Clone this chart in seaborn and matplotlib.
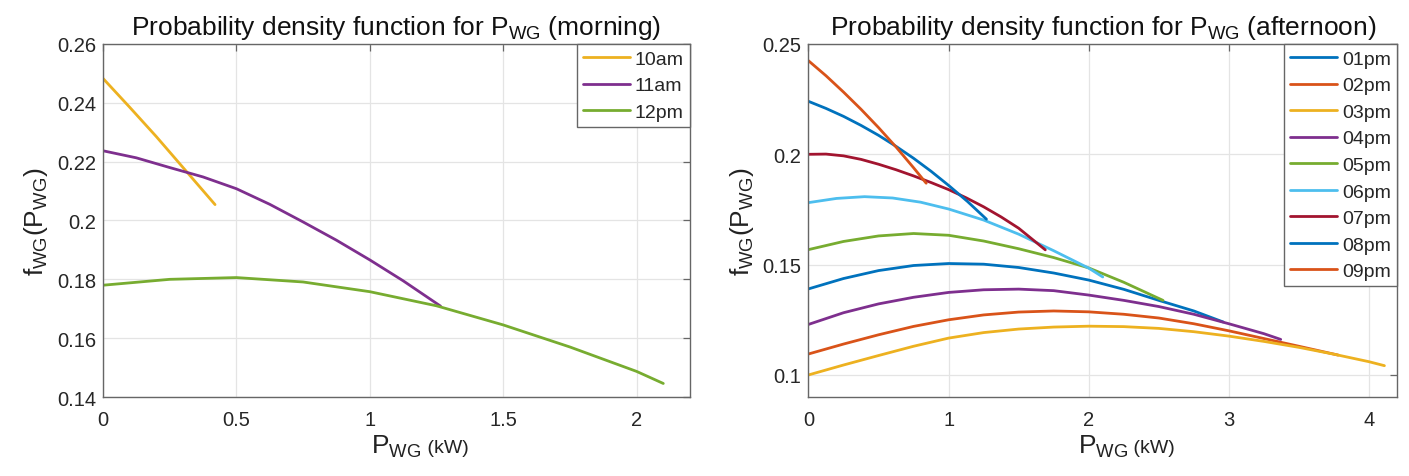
#!/usr/bin/env python

# Probability density of wind generator power, morning vs afternoon hours

import pandas as pd
import seaborn as sns
from matplotlib import pyplot as plt
from matplotlib.ticker import FuncFormatter


# ---- morning curves ----
morning_hours = ["10am", "11am", "12pm"]

x_10am = [0.0, 0.1, 0.2, 0.3, 0.42]
y_10am = [0.2483, 0.2385, 0.2285, 0.2180, 0.2054]

x_11am = [0.0, 0.125, 0.25, 0.375, 0.5, 0.625, 0.75, 0.875, 1.0, 1.125, 1.265]
y_11am = [0.2237, 0.2213, 0.2180, 0.2148, 0.2108, 0.2055, 0.1995, 0.1933, 0.1866, 0.1795, 0.1709]

x_12pm = [0.0, 0.25, 0.5, 0.75, 1.0, 1.25, 1.5, 1.75, 2.0, 2.1]
y_12pm = [0.1780, 0.1800, 0.1806, 0.1791, 0.1758, 0.1710, 0.1645, 0.1570, 0.1487, 0.1446]

# ---- afternoon curves ----
afternoon_hours = ["01pm", "02pm", "03pm", "04pm", "05pm", "06pm", "07pm", "08pm", "09pm"]

x_01pm = [0.0, 0.25, 0.5, 0.75, 1.0, 1.25, 1.5, 1.75, 2.0, 2.25, 2.5, 2.75, 2.96]
y_01pm = [0.1390, 0.1437, 0.1473, 0.1496, 0.1505, 0.1502, 0.1487, 0.1462, 0.1430, 0.1388, 0.1338, 0.1290, 0.1240]

x_02pm = [0.0, 0.25, 0.5, 0.75, 1.0, 1.25, 1.5, 1.75, 2.0, 2.25, 2.5, 2.75, 3.0, 3.25, 3.5, 3.78]
y_02pm = [0.1095, 0.1140, 0.1182, 0.1220, 0.1250, 0.1272, 0.1285, 0.1290, 0.1286, 0.1275, 0.1258, 0.1232, 0.1200, 0.1165, 0.1130, 0.1090]

x_03pm = [0.0, 0.25, 0.5, 0.75, 1.0, 1.25, 1.5, 1.75, 2.0, 2.25, 2.5, 2.75, 3.0, 3.25, 3.5, 3.75, 4.0, 4.11]
y_03pm = [0.1000, 0.1045, 0.1088, 0.1130, 0.1167, 0.1192, 0.1208, 0.1217, 0.1221, 0.1219, 0.1211, 0.1196, 0.1176, 0.1152, 0.1125, 0.1094, 0.1060, 0.1042]

x_04pm = [0.0, 0.25, 0.5, 0.75, 1.0, 1.25, 1.5, 1.75, 2.0, 2.25, 2.5, 2.75, 3.0, 3.25, 3.37]
y_04pm = [0.1229, 0.1282, 0.1322, 0.1352, 0.1374, 0.1386, 0.1389, 0.1382, 0.1362, 0.1338, 0.1310, 0.1275, 0.1232, 0.1187, 0.1161]

x_05pm = [0.0, 0.25, 0.5, 0.75, 1.0, 1.25, 1.5, 1.75, 2.0, 2.25, 2.53]
y_05pm = [0.1568, 0.1605, 0.1630, 0.1641, 0.1633, 0.1607, 0.1572, 0.1532, 0.1485, 0.1420, 0.1338]

x_06pm = [0.0, 0.2, 0.4, 0.6, 0.8, 1.0, 1.25, 1.5, 1.75, 2.0, 2.1]
y_06pm = [0.1781, 0.1800, 0.1808, 0.1802, 0.1783, 0.1752, 0.1702, 0.1638, 0.1563, 0.1484, 0.1444]

x_07pm = [0.0, 0.125, 0.25, 0.375, 0.5, 0.625, 0.75, 0.875, 1.0, 1.125, 1.25, 1.375, 1.5, 1.69]
y_07pm = [0.2000, 0.2001, 0.1993, 0.1977, 0.1955, 0.1930, 0.1902, 0.1872, 0.1840, 0.1803, 0.1762, 0.1716, 0.1665, 0.1567]

x_08pm = [0.0, 0.125, 0.25, 0.375, 0.5, 0.625, 0.75, 0.875, 1.0, 1.135, 1.27]
y_08pm = [0.2240, 0.2208, 0.2172, 0.2131, 0.2086, 0.2036, 0.1982, 0.1923, 0.1859, 0.1786, 0.1706]

x_09pm = [0.0, 0.125, 0.25, 0.375, 0.5, 0.625, 0.75, 0.84]
y_09pm = [0.2424, 0.2356, 0.2282, 0.2204, 0.2121, 0.2033, 0.1939, 0.1869]

# MATLAB default line colours
matlab_colors = ["#0072BD", "#D95319", "#EDB120", "#7E2F8E", "#77AC30",
                 "#4DBEEE", "#A2142F", "#0072BD", "#D95319"]


def long_frame(names, xs, ys):
    parts = [pd.DataFrame({"P": x, "f": y, "hour": n}) for n, x, y in zip(names, xs, ys)]
    return pd.concat(parts, ignore_index=True)


df_morning = long_frame(morning_hours, [x_10am, x_11am, x_12pm], [y_10am, y_11am, y_12pm])
df_afternoon = long_frame(
    afternoon_hours,
    [x_01pm, x_02pm, x_03pm, x_04pm, x_05pm, x_06pm, x_07pm, x_08pm, x_09pm],
    [y_01pm, y_02pm, y_03pm, y_04pm, y_05pm, y_06pm, y_07pm, y_08pm, y_09pm],
)

sns.set_theme(style="white")
plt.rcParams['font.family'] = ['Liberation Sans', 'DejaVu Sans']
plt.rcParams['mathtext.fontset'] = 'custom'
plt.rcParams['mathtext.rm'] = 'Liberation Sans'
plt.rcParams['mathtext.it'] = 'Liberation Sans:italic'
plt.rcParams['mathtext.bf'] = 'Liberation Sans:bold'

fig = plt.figure(figsize=(14.09, 4.77), dpi=100)
ax1 = fig.add_axes([0.0731, 0.1656, 0.4166, 0.7401])
ax2 = fig.add_axes([0.5738, 0.1656, 0.4177, 0.7401])

sns.lineplot(data=df_morning, x="P", y="f", hue="hour", hue_order=morning_hours,
             palette=dict(zip(morning_hours, matlab_colors[2:5])),
             estimator=None, sort=False, lw=2.0, ax=ax1)
sns.lineplot(data=df_afternoon, x="P", y="f", hue="hour", hue_order=afternoon_hours,
             palette=dict(zip(afternoon_hours, matlab_colors)),
             estimator=None, sort=False, lw=2.0, ax=ax2)

panels = [
    (ax1, "morning", (0, 2.2), (0.14, 0.26), [0, 0.5, 1, 1.5, 2], [0.14, 0.16, 0.18, 0.2, 0.22, 0.24, 0.26]),
    (ax2, "afternoon", (0, 4.2), (0.09, 0.25), [0, 1, 2, 3, 4], [0.1, 0.15, 0.2, 0.25]),
]

for ax, period, xl, yl, xt, yt in panels:
    ax.set_xlim(*xl)
    ax.set_ylim(*yl)
    ax.set_xticks(xt)
    ax.set_yticks(yt)
    ax.xaxis.set_major_formatter(FuncFormatter(lambda v, p: "%g" % v))
    ax.yaxis.set_major_formatter(FuncFormatter(lambda v, p: "%g" % v))
    ax.grid(True, color="#e4e4e4", lw=0.9)
    ax.tick_params(direction="in", top=True, right=True, length=5, width=0.9,
                   colors="#666666", labelcolor="#262626", labelsize=14.5)
    ax.tick_params(axis="x", pad=9)
    ax.tick_params(axis="y", pad=5)
    for s in ax.spines.values():
        s.set_color("#666666")
        s.set_linewidth(1.0)

    ax.set_title(r"Probability density function for P$_{\mathrm{WG}}$ (%s)" % period,
                 fontsize=19, pad=7, color="#111111")
    ax.set_ylabel(r"f$_{\mathrm{WG}}$(P$_{\mathrm{WG}}$)", fontsize=19, labelpad=5, color="#222222")
    ax.set_xlabel(r"P$_{\mathrm{WG}}$", fontsize=19, labelpad=3, color="#222222")
    ax.annotate(" (kW)", xy=(1.0, 0.27), xycoords=ax.xaxis.label, ha="left", va="baseline",
                fontsize=14, color="#222222")

    handles, labels = ax.get_legend_handles_labels()
    leg = ax.legend(handles, labels, loc="upper right", borderaxespad=0, frameon=True,
                    fancybox=False, edgecolor="#666666", framealpha=1, fontsize=14,
                    handlelength=2.4, handletextpad=0.25, labelspacing=0.46, borderpad=0.32)
    leg.get_frame().set_linewidth(1.0)
    for t in leg.get_texts():
        t.set_color("#262626")

fig.savefig("out.png", dpi=100)
